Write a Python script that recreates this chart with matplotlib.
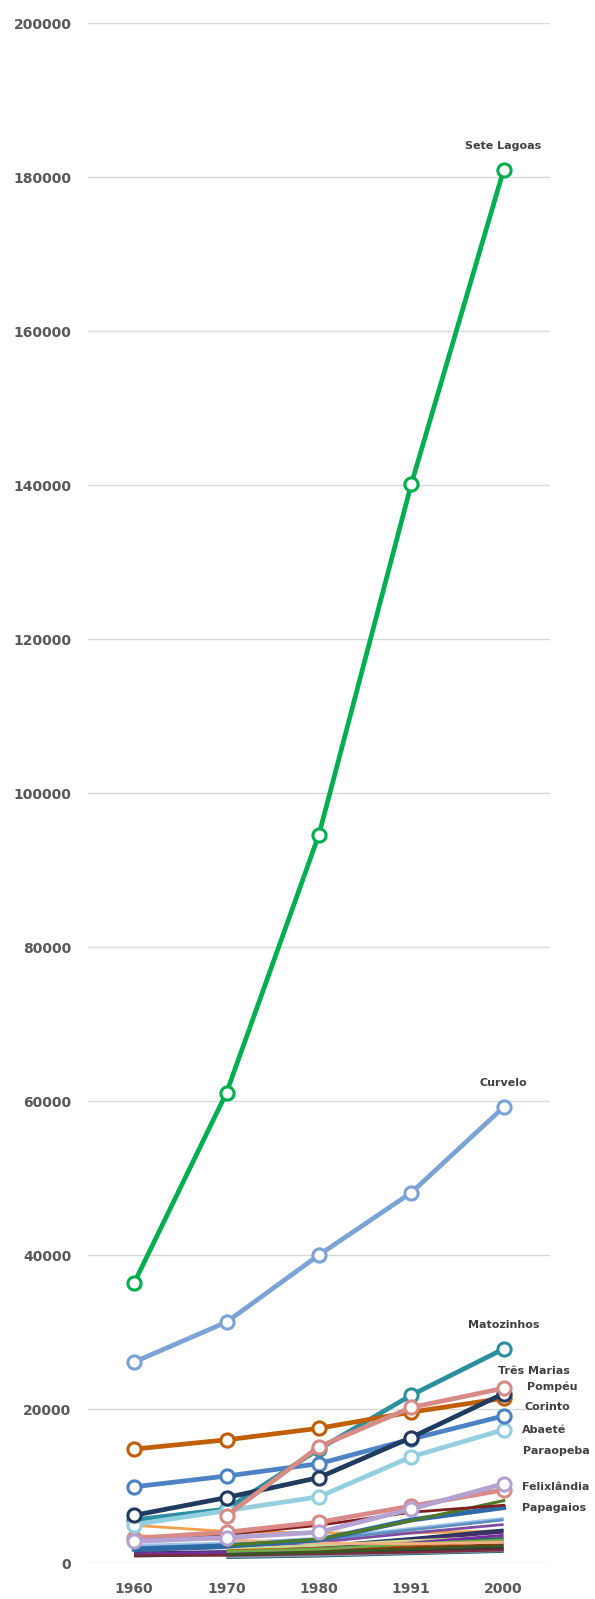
import numpy as np
import matplotlib
matplotlib.use("Agg")
import matplotlib.pyplot as plt

nan = np.nan
years = ["1960", "1970", "1980", "1991", "2000"]

# labelled series (population by census year)
sete_lagoas = [36400, 61100, 94600, 140100, 180900]
curvelo = [26100, 31300, 40000, 48100, 59200]
matozinhos = [5600, 7000, 14800, 21800, 27800]
tres_marias = [nan, 6150, 15100, 20200, 22700]
pompeu = [6200, 8500, 11100, 16300, 22000]
corinto = [14800, 16000, 17500, 19600, 21400]
abaete = [9900, 11300, 12900, 16100, 19100]
paraopeba = [5000, 6800, 8600, 13800, 17300]
felixlandia = [2800, 3300, 4000, 7000, 10300]
papagaios = [1800, 2200, 3000, 5600, 7200]

# other municipalities (unlabelled)
salmon_series = [3200, 4000, 5300, 7400, 9500]
olive_series = [nan, 2300, 3100, 5500, 8100]
maroon_series = [2800, 3700, 4900, 6600, 7500]
minor_values = [
    [4900, 4100, 3900, 3900, 4200],
    [2300, 2600, 3200, 4500, 5800],
    [2000, 2400, 3000, 4300, 5600],
    [1600, 2000, 2700, 3900, 5000],
    [1300, 1500, 2200, 3200, 4300],
    [nan, 1400, 2000, 3000, 4000],
    [nan, 1800, 2300, 2900, 3400],
    [nan, 1200, 1700, 2500, 3200],
    [nan, 1600, 1900, 2300, 2800],
    [1100, 1300, 1600, 2000, 2400],
    [nan, 1000, 1300, 1700, 2100],
    [nan, 900, 1100, 1500, 1800],
    [900, 1100, 1300, 1600, 1900],
    [nan, 700, 900, 1200, 1500],
    [1200, 1400, 1800, 2600, 3600],
    [nan, 1500, 1800, 2500, 3000],
    [3600, 3000, 2600, 2500, 2700],
    [nan, 800, 1000, 1300, 1600],
    [1000, 1000, 1200, 1400, 1700],
    [nan, 1100, 1400, 1800, 2200],
]
minor_colors = ["#f5a04a", "#9dc3e6", "#5f8fc0", "#7b4ea3", "#203864",
                "#4a2b6b", "#c5d98c", "#215967", "#c55a11", "#843c0c",
                "#bf9000", "#ed7d31", "#1f2f4f", "#1b5e6b", "#7030a0",
                "#70ad47", "#f4b183", "#8497b0", "#7b2c3a", "#375623"]

fig = plt.figure(figsize=(5.95, 15.99), dpi=100)
ax = fig.add_axes([0.148, 0.0225, 0.776, 0.9631])
x = np.arange(len(years))

for vals, col in zip(minor_values, minor_colors):
    ax.plot(x, vals, color=col, lw=2.0, solid_capstyle="butt")

ax.plot(x, papagaios, color="#2d6aa8", lw=3.6)
ax.plot(x, olive_series, color="#4e7a25", lw=2.2)
ax.plot(x, maroon_series, color="#7f1f1f", lw=2.0)

def series(vals, col, lw=3.4):
    ax.plot(x, vals, color=col, lw=lw, marker="o", ms=9.5,
            mfc="white", mec=col, mew=2.2, zorder=3)

series(matozinhos, "#2c909e")
series(salmon_series, "#d98a86")
series(felixlandia, "#b3a2d2")
series(paraopeba, "#93cfe0")
series(abaete, "#4d82c4")
series(corinto, "#c05f08")
series(pompeu, "#1f3b60")
series(tres_marias, "#d88a84")
series(curvelo, "#7ba3d6")
series(sete_lagoas, "#00b04f")

label_kw = dict(textcoords="offset pixels", fontsize=8, fontweight="bold",
                color="#404040", va="center", annotation_clip=False)
ax.annotate("Sete Lagoas", (4, sete_lagoas[-1]), xytext=(0, 24), ha="center", **label_kw)
ax.annotate("Curvelo", (4, curvelo[-1]), xytext=(0, 24), ha="center", **label_kw)
ax.annotate("Matozinhos", (4, matozinhos[-1]), xytext=(0, 24), ha="center", **label_kw)
ax.annotate("Três Marias", (4, tres_marias[-1]), xytext=(30, 17), ha="center", **label_kw)
ax.annotate("Pompéu", (4, pompeu[-1]), xytext=(23, 7), ha="left", **label_kw)
ax.annotate("Corinto", (4, corinto[-1]), xytext=(21, -9), ha="left", **label_kw)
ax.annotate("Abaeté", (4, abaete[-1]), xytext=(18, -14), ha="left", **label_kw)
ax.annotate("Paraopeba", (4, paraopeba[-1]), xytext=(19, -21), ha="left", **label_kw)
ax.annotate("Felixlândia", (4, felixlandia[-1]), xytext=(18, -3), ha="left", **label_kw)
ax.annotate("Papagaios", (4, papagaios[-1]), xytext=(18, 0), ha="left", **label_kw)

ax.set_xlim(-0.5, 4.5)
ax.set_ylim(0, 200000)
ax.set_yticks(np.arange(0, 200001, 20000))
ax.set_xticks(x)
ax.set_xticklabels(years)
ax.grid(axis="y", color="#d9d9d9", lw=1)
ax.set_axisbelow(True)
for s in ax.spines.values():
    s.set_visible(False)
ax.tick_params(axis="both", length=0, labelsize=10, labelcolor="#595959")
ax.tick_params(axis="y", pad=12)
ax.tick_params(axis="x", pad=14)
for lab in ax.get_xticklabels() + ax.get_yticklabels():
    lab.set_fontweight("bold")

fig.savefig("out.png", dpi=100)
